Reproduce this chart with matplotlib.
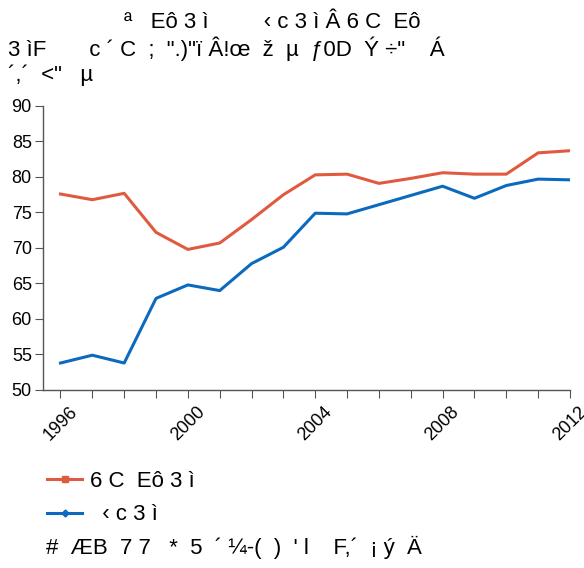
import numpy as np
import matplotlib.pyplot as plt
from matplotlib.lines import Line2D

plt.rcParams['font.family'] = ['Liberation Sans', 'DejaVu Sans']

years = list(range(1996, 2013))
red_vals = [77.6, 76.8, 77.7, 72.2, 69.8, 70.7, 74.0, 77.5, 80.3, 80.4, 79.1, 79.8, 80.6, 80.4, 80.4, 83.4, 83.7]
blue_vals = [53.8, 54.9, 53.8, 62.9, 64.8, 64.0, 67.8, 70.1, 74.9, 74.8, 76.1, 77.4, 78.7, 77.0, 78.8, 79.7, 79.6]
labels = ['6 C  Eô 3 ì', '  \u2039 c 3 ì']
title_lines = ['ª   Eô 3 ì         \u2039 c 3 ì Â 6 C  Eô',
               '3 ìF       c ´ C  ;  ".)"ï Â!œ  ž  µ  ƒ0D  Ý ÷"    Á',
               '´,´  <"   µ']
footer = '#  ÆB  7 7   *  5  ´ ¼-(  )  \' l    F,´  ¡ ý  Ä'

red = '#E05A40'
blue = '#0B6ABF'

fig = plt.figure(figsize=(5.84, 5.68), dpi=100)
ax = fig.add_axes([0.0736, 0.3134, 0.9024, 0.5])

ax.plot(years, red_vals, color=red, lw=2.2)
ax.plot(years, blue_vals, color=blue, lw=2.2)

ax.set_xlim(1995.45, 2012)
ax.set_ylim(50, 90)
ax.set_yticks(np.arange(50, 91, 5))
ax.set_xticks(years)
ax.set_xticklabels([str(y) if (y - 1996) % 4 == 0 else '' for y in years], rotation=45)
ax.tick_params(axis='both', labelsize=13, color='#555555', length=6, direction='out')
ax.tick_params(axis='y', pad=2)
for side in ['top', 'right']:
    ax.spines[side].set_visible(False)
for side in ['left', 'bottom']:
    ax.spines[side].set_color('#555555')
    ax.spines[side].set_linewidth(1.0)

fig.text(0.212, 0.961, title_lines[0], fontsize=16, va='center')
fig.text(0.014, 0.915, title_lines[1], fontsize=16, va='center')
fig.text(0.014, 0.868, title_lines[2], fontsize=16, va='center')

handles = [Line2D([], [], color=red, lw=2.2, marker='s', markersize=5),
           Line2D([], [], color=blue, lw=2.2, marker='D', markersize=3.5)]
fig.legend(handles, labels, loc='upper left', bbox_to_anchor=(0.065, 0.186, 0.5, 0.0),
           frameon=False, fontsize=16, handlelength=1.6, handletextpad=0.35,
           labelspacing=0.55, borderaxespad=0)

fig.text(0.079, 0.037, footer, fontsize=16, va='center')

plt.savefig('out.png', dpi=100)
